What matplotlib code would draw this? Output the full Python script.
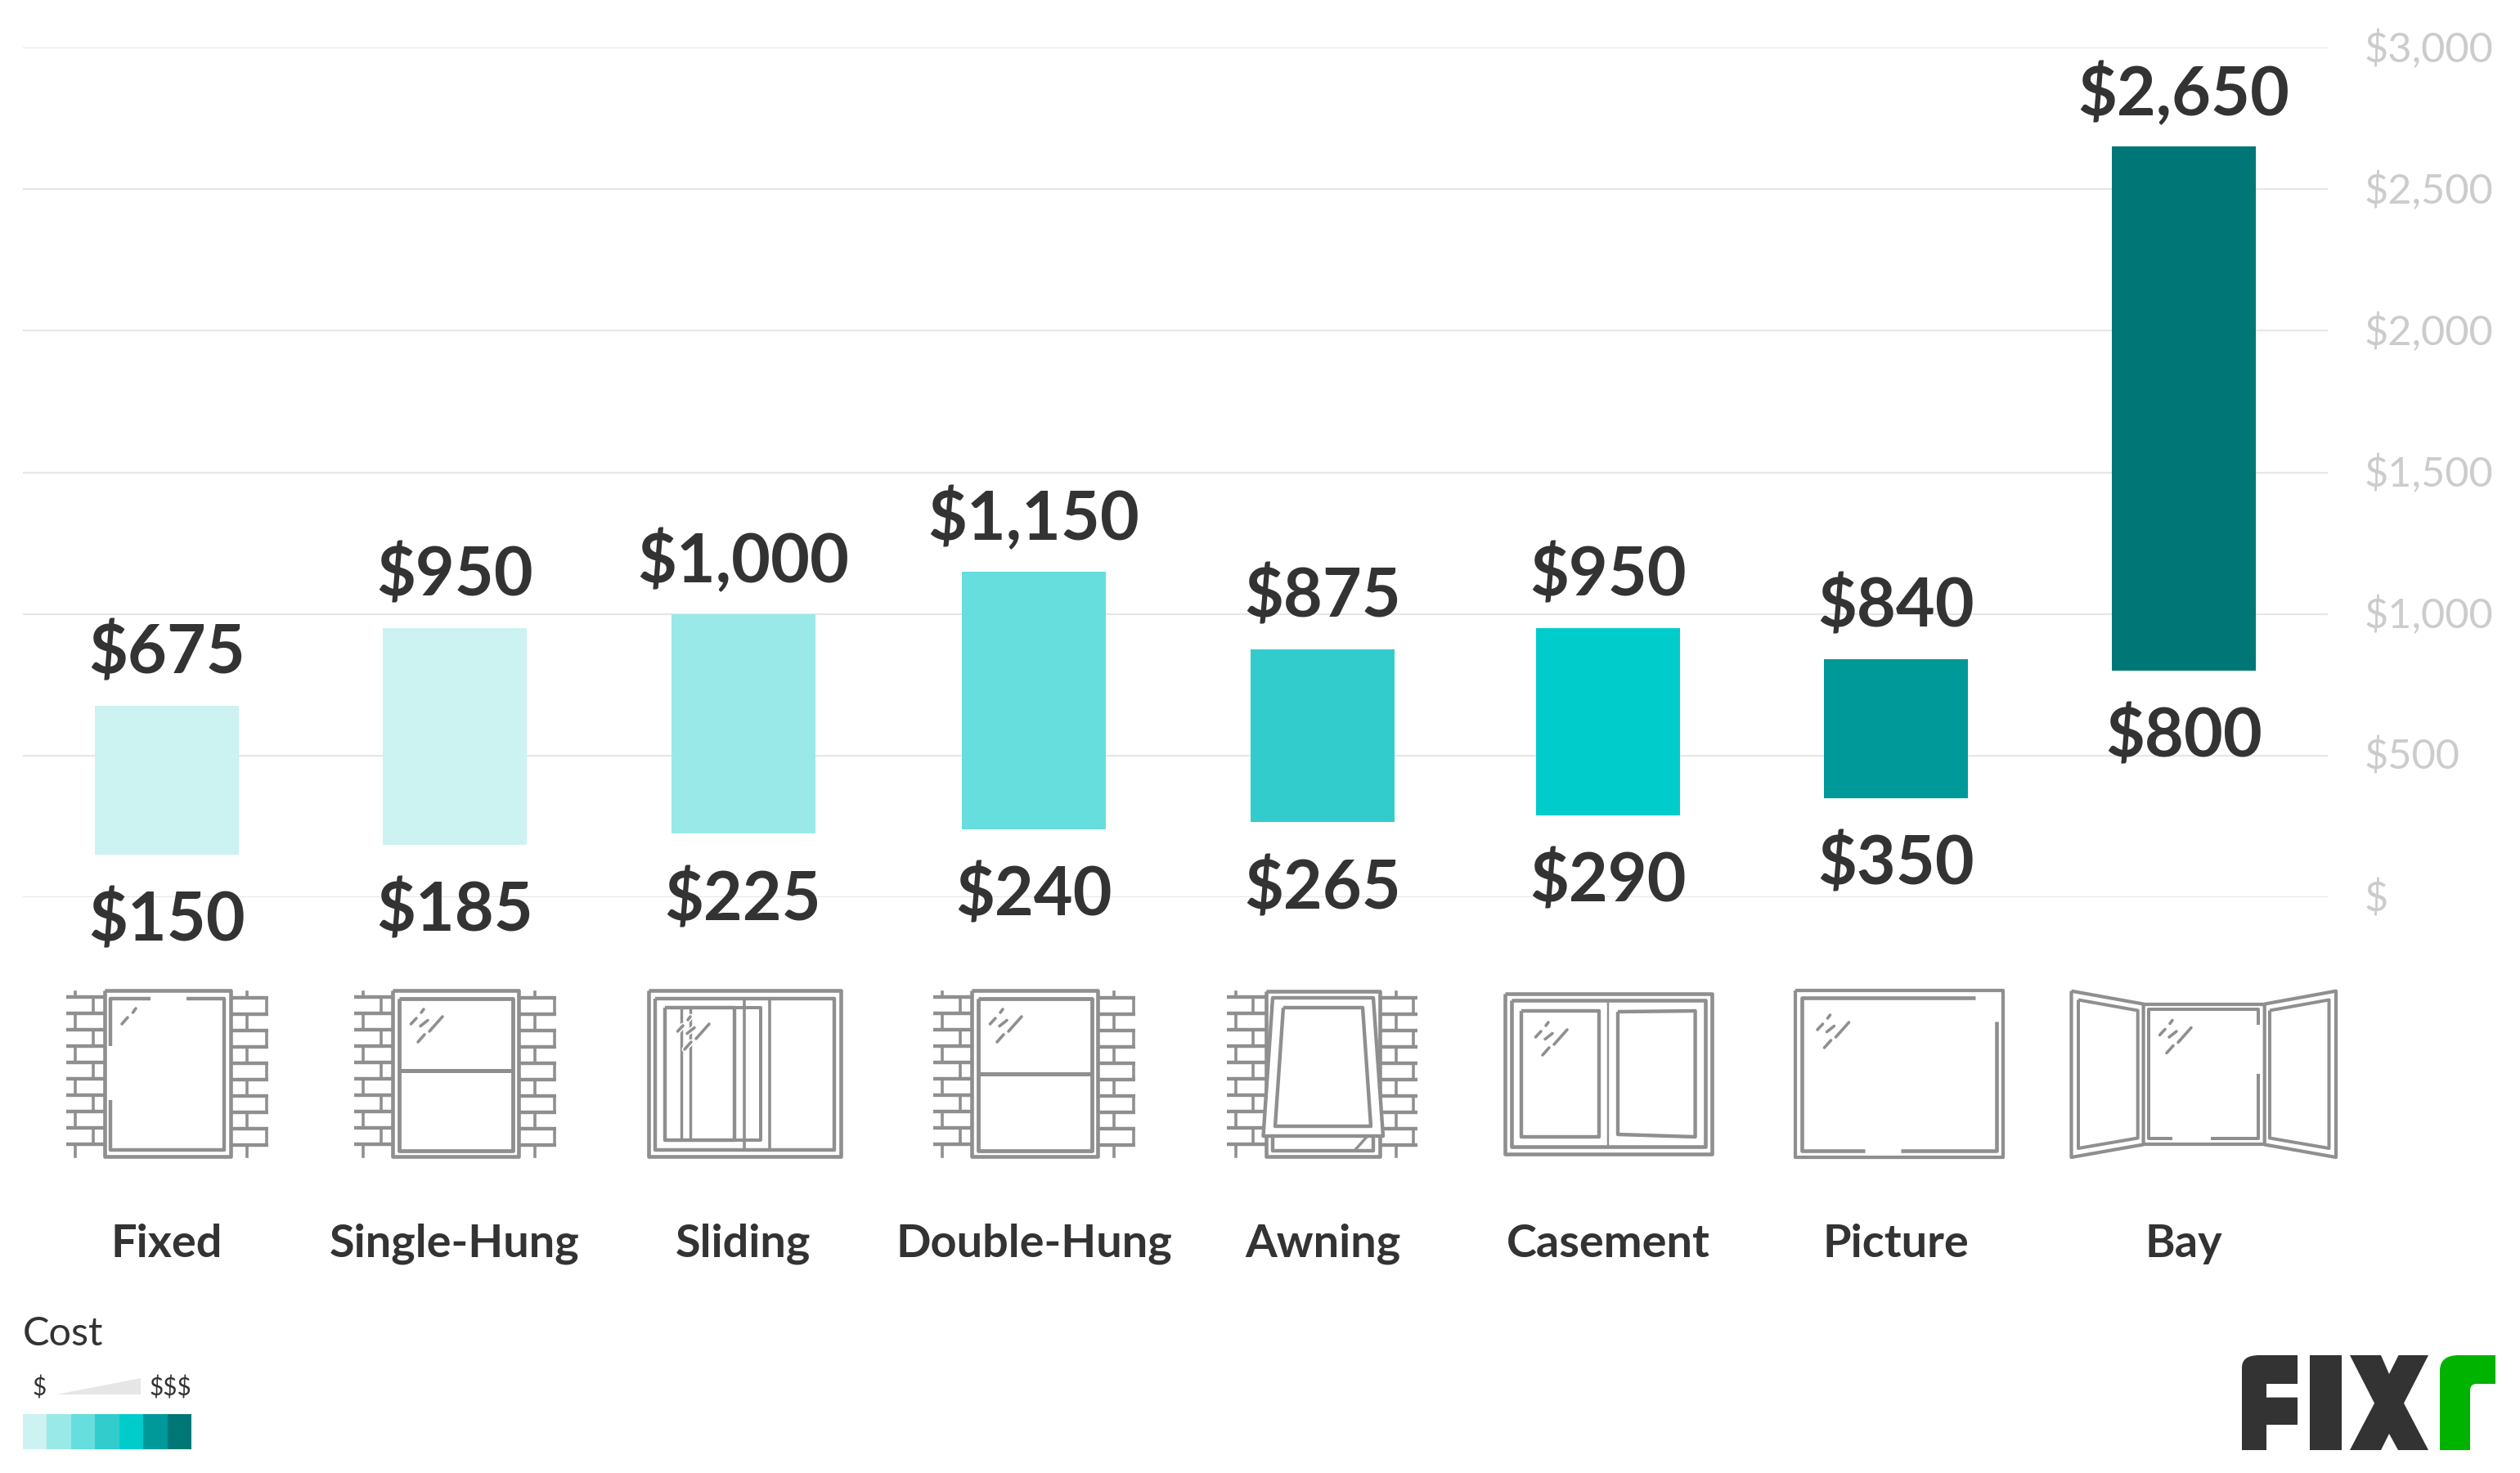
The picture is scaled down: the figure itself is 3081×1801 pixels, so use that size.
#!/usr/bin/env python3
# -*- coding: utf-8 -*-
"""Window cost ranges by type: floating bars with line-art window icons."""

import matplotlib
matplotlib.use("Agg")
import matplotlib.pyplot as plt
from matplotlib.patches import Polygon, PathPatch, Rectangle
from matplotlib.path import Path
from matplotlib.transforms import ScaledTranslation

# --- Data ---
categories = ["Fixed", "Single-Hung", "Sliding", "Double-Hung",
              "Awning", "Casement", "Picture", "Bay"]
cost_low = [150, 185, 225, 240, 265, 290, 350, 800]
cost_high = [675, 950, 1000, 1150, 875, 950, 840, 2650]
y_ticks = [0, 500, 1000, 1500, 2000, 2500, 3000]
y_tick_labels = ["$", "$500", "$1,000", "$1,500", "$2,000", "$2,500", "$3,000"]
legend_title = "Cost"
legend_low = "$"
legend_high = "$$$"

# --- Style and layout (pixels of the 3081x1801 image) ---
W, H = 3081, 1801
DARK = "#333333"
ICON = "#8f8f8f"
GREEN = "#00b300"
scale_colors = ["#ccf2f2", "#99e9e9", "#66dede", "#33cccc",
                "#00cccc", "#009999", "#007777"]
bar_colors = ["#ccf2f2", "#ccf2f2", "#99e9e9", "#66dede",
              "#33cccc", "#00cccc", "#009999", "#007777"]
bar_x = [204, 556, 908.5, 1264, 1617, 1966, 2318, 2670]
AX_LEFT, AX_RIGHT, AX_TOP, AX_BOTTOM = 28, 2846, 58, 1097
BAR_W = 176
PX = 72 / 100  # points per pixel at dpi 100

plt.rcParams["font.family"] = ["Lato", "Open Sans", "DejaVu Sans"]

# (x0, y0, x1, y1) relative to the anchor of an icon
GLINTS = [(39, 23, 36, 27), (30, 34, 23.5, 41), (44, 36.5, 35, 43.6),
          (62, 32, 46, 50), (40, 54, 32, 63)]


def stroke(ov, xs, ys, lw=4.4, closed=False, z=3):
    if closed:
        xs, ys = list(xs) + [xs[0]], list(ys) + [ys[0]]
    ov.plot(xs, ys, color=ICON, lw=lw * PX, solid_capstyle="butt",
            solid_joinstyle="round", zorder=z)


def box(ov, x0, y0, x1, y1, lw=4.4, z=3):
    stroke(ov, [x0, x1, x1, x0], [y0, y0, y1, y1], lw=lw, closed=True, z=z)


def glints(ov, ax_, ay_, items=GLINTS, halo=False):
    for x0, y0, x1, y1 in items:
        if halo:
            ov.plot([ax_ + x0, ax_ + x1], [ay_ + y0, ay_ + y1], color="white",
                    lw=7 * PX, solid_capstyle="round", zorder=4)
        ov.plot([ax_ + x0, ax_ + x1], [ay_ + y0, ay_ + y1], color=ICON,
                lw=3.6 * PX, solid_capstyle="round", zorder=5)


def bricks(ov, x0, x1, v_a, v_b, y_first, top=1213, bottom=1414):
    """Brick courses next to a window, mortar stubs alternate between v_a and v_b."""
    ys = [y_first + 20 * k for k in range(10)]
    for y in ys:
        ov.plot([x0, x1], [y, y], color=ICON, lw=4.4 * PX, solid_capstyle="butt", zorder=2)
    ov.plot([v_a, v_a], [top, ys[0]], color=ICON, lw=3.6 * PX, zorder=2)
    ov.plot([v_a, v_a], [ys[-1], bottom], color=ICON, lw=3.6 * PX, zorder=2)
    for k in range(9):
        v = v_b if k % 2 == 0 else v_a
        ov.plot([v, v], [ys[k], ys[k + 1]], color=ICON, lw=3.6 * PX, zorder=2)


def brick_sides(ov, dx):
    bricks(ov, 81 + dx, 128 + dx, 92 + dx, 114 + dx, 1218.5)
    bricks(ov, 282 + dx, 328 + dx, 302 + dx, 326 + dx, 1219.5)


def icon_fixed(ov):
    brick_sides(ov, 0)
    box(ov, 128, 1211, 282, 1414, lw=4.6)
    stroke(ov, [184, 135, 135], [1220.5, 1220.5, 1279])
    stroke(ov, [135, 135, 274, 274, 228], [1345, 1406, 1406, 1220.5, 1220.5])
    glints(ov, 128, 1211, [(38, 22, 34.5, 27), (28, 33, 21, 41)])


def icon_hung(ov, dx, mid_y):
    brick_sides(ov, dx)
    box(ov, 128 + dx, 1211, 282 + dx, 1414, lw=4.6)
    box(ov, 136 + dx, 1221, 275 + dx, 1406.5, lw=4.8)
    stroke(ov, [136 + dx, 275 + dx], [mid_y, mid_y], lw=5)
    glints(ov, 127 + dx, 1211)


def icon_sliding(ov):
    box(ov, 793, 1211, 1028, 1414, lw=4.6)
    box(ov, 801, 1220.5, 1020, 1406)
    stroke(ov, [910, 910], [1220.5, 1406], lw=3.6)
    stroke(ov, [941, 941], [1220.5, 1406], lw=3.6)
    stroke(ov, [898, 930, 930, 898], [1232, 1232, 1394, 1394], lw=4)
    box(ov, 813, 1232, 898, 1394)
    stroke(ov, [833, 833], [1232, 1394], lw=3.4)
    stroke(ov, [844, 844], [1232, 1394], lw=3.4)
    glints(ov, 805, 1220, halo=True)


def icon_awning(ov):
    bricks(ov, 1500, 1548, 1511, 1532, 1218.5)
    bricks(ov, 1687, 1733, 1707, 1728, 1220)
    box(ov, 1548, 1212, 1687, 1414, lw=4.6)
    stroke(ov, [1556, 1556, 1679, 1679], [1389, 1407, 1407, 1389])
    stroke(ov, [1671, 1656], [1390, 1407], lw=3.4)
    sash_x = [1556, 1679, 1691, 1544.5]
    sash_y = [1220, 1220, 1389, 1389]
    ov.add_patch(Polygon(list(zip(sash_x, sash_y)), closed=True, fc="white",
                         ec=ICON, lw=4.4 * PX, joinstyle="round", zorder=3))
    stroke(ov, [1569, 1666, 1676, 1559], [1232, 1232, 1377, 1377], closed=True, z=4)


def icon_casement(ov):
    box(ov, 1840, 1215, 2093, 1411, lw=4.6)
    box(ov, 1848, 1223, 2085, 1402, lw=4.6)
    stroke(ov, [1966, 1966], [1223, 1402], lw=2.4)
    box(ov, 1860, 1236, 1955, 1390)
    stroke(ov, [1978, 2072.6, 2072.6, 1978], [1237, 1236, 1390, 1387], closed=True)
    glints(ov, 1854, 1227)


def icon_picture(ov):
    box(ov, 2195, 1211, 2449, 1415, lw=4.2)
    stroke(ov, [2280, 2203, 2203, 2415], [1407, 1407, 1220, 1220], lw=4.6)
    stroke(ov, [2324, 2440.5, 2440.5], [1407, 1407, 1249], lw=4.6)
    glints(ov, 2198.5, 1218)


def icon_bay(ov):
    stroke(ov, [2532.5, 2620.6, 2620.6, 2532.5], [1211.7, 1227.6, 1399.4, 1415], lw=4.2, closed=True)
    stroke(ov, [2541, 2613.7, 2613.7, 2541], [1222.5, 1235.5, 1391.5, 1404], lw=4, closed=True)
    stroke(ov, [2768.7, 2856, 2856, 2768.7], [1227.6, 1211.7, 1415, 1399.4], lw=4.2, closed=True)
    stroke(ov, [2775, 2847.5, 2847.5, 2775], [1235.5, 1222.5, 1404, 1391.5], lw=4, closed=True)
    stroke(ov, [2620.6, 2768.7], [1227.6, 1227.6], lw=4.2)
    stroke(ov, [2620.6, 2768.7], [1399.4, 1399.4], lw=4.2)
    stroke(ov, [2656, 2627, 2627, 2761, 2761], [1392, 1392, 1233.6, 1233.6, 1253], lw=4)
    stroke(ov, [2761, 2761, 2703], [1313, 1392, 1392], lw=4)
    glints(ov, 2617, 1224.5)


def draw_logo(ov):
    M, L, Q, C = Path.MOVETO, Path.LINETO, Path.CURVE3, Path.CLOSEPOLY
    f_pts = [(2741, 1773), (2741, 1672), (2741, 1657), (2762, 1657), (2809, 1657),
             (2809, 1692), (2771, 1692), (2771, 1708.6), (2809, 1708.6), (2809, 1742),
             (2771, 1742), (2771, 1773), (2741, 1773)]
    f_codes = [M, L, Q, Q, L, L, L, L, L, L, L, L, C]
    ov.add_patch(PathPatch(Path(f_pts, f_codes), fc=DARK, ec="none", zorder=5))
    ov.add_patch(Rectangle((2824, 1657), 38.5, 116, fc=DARK, ec="none", zorder=5))
    x_pts = [(2873, 1657), (2911, 1657), (2921, 1680), (2932.5, 1657), (2969, 1657),
             (2939, 1715.7), (2969, 1773), (2932, 1773), (2921, 1753), (2911, 1773),
             (2873, 1773), (2903, 1715.7)]
    ov.add_patch(Polygon(x_pts, closed=True, fc=DARK, ec="none", zorder=5))
    r_pts = [(2983, 1773), (2983, 1676), (2983, 1657), (3006, 1657), (3051, 1657),
             (3051, 1692), (3028, 1692), (3020, 1692), (3020, 1700), (3020, 1773), (2983, 1773)]
    r_codes = [M, L, Q, Q, L, L, L, Q, Q, L, C]
    ov.add_patch(PathPatch(Path(r_pts, r_codes), fc=GREEN, ec="none", zorder=5))


def main():
    fig = plt.figure(figsize=(W / 100, H / 100), dpi=100, facecolor="white")

    ax = fig.add_axes([AX_LEFT / W, 1 - AX_BOTTOM / H,
                       (AX_RIGHT - AX_LEFT) / W, (AX_BOTTOM - AX_TOP) / H])
    ax.set_xlim(AX_LEFT, AX_RIGHT)
    ax.set_ylim(0, 3000)
    heights = [hi - lo for lo, hi in zip(cost_low, cost_high)]
    ax.bar(bar_x, heights, bottom=cost_low, width=BAR_W, color=bar_colors, zorder=3)

    for x, lo, hi in zip(bar_x, cost_low, cost_high):
        ax.annotate(f"${hi:,}", (x, hi), xytext=(0, 46), textcoords="offset points",
                    ha="center", va="center", fontsize=59.5, fontweight="bold", color=DARK)
        ax.annotate(f"${lo:,}", (x, lo), xytext=(0, -59), textcoords="offset points",
                    ha="center", va="center", fontsize=59.5, fontweight="bold", color=DARK)

    ax.set_xticks([])
    ax.set_yticks(y_ticks)
    ax.set_yticklabels(y_tick_labels, fontsize=36.4, color="#cccccc", va="center_baseline")
    ax.yaxis.tick_right()
    ax.tick_params(axis="y", length=0, pad=32)
    # labels sit a touch above their gridlines
    nudge = ScaledTranslation(0, 2 / 100, fig.dpi_scale_trans)
    for lab in ax.get_yticklabels():
        lab.set_transform(lab.get_transform() + nudge)
    ax.grid(axis="y", color="#e6e6e6", lw=1.5)
    ax.set_axisbelow(True)
    for s in ax.spines.values():
        s.set_visible(False)

    # overlay in image pixels for icons, category names, legend and logo
    ov = fig.add_axes([0, 0, 1, 1])
    ov.set_xlim(0, W)
    ov.set_ylim(H, 0)
    ov.axis("off")
    ov.patch.set_alpha(0)

    icon_fixed(ov)
    icon_hung(ov, 352, 1308.5)
    icon_sliding(ov)
    icon_hung(ov, 1060, 1313)
    icon_awning(ov)
    icon_casement(ov)
    icon_picture(ov)
    icon_bay(ov)

    for x, name in zip(bar_x, categories):
        ov.text(x, 1521, name, ha="center", va="center", fontsize=40.2,
                fontweight="bold", color=DARK)

    ov.text(28, 1631, legend_title, ha="left", va="center", fontsize=35, color=DARK)
    ov.text(48, 1697, legend_low, ha="center", va="center", fontsize=21.5, color=DARK)
    ov.text(234, 1697, legend_high, ha="right", va="center", fontsize=21.5, color=DARK)
    ov.add_patch(Polygon([(69, 1705), (172, 1685), (172, 1705)], closed=True,
                         fc="#e6e6e6", ec="none"))
    sw = (234 - 28) / len(scale_colors)
    for i, c in enumerate(scale_colors):
        ov.add_patch(Rectangle((28 + i * sw, 1729), sw, 43, fc=c, ec="none"))

    draw_logo(ov)

    fig.savefig("out.png", dpi=100, facecolor="white")
    plt.close(fig)


if __name__ == "__main__":
    main()
